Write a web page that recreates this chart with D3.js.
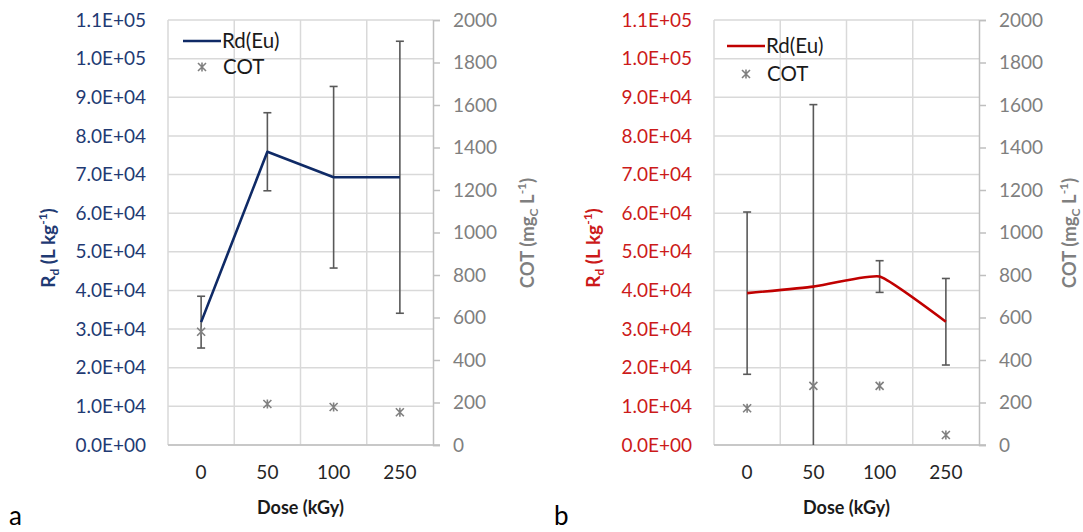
<!DOCTYPE html>
<html><head><meta charset="utf-8">
<script src="https://cdn.jsdelivr.net/npm/d3@7"></script>
<style>body{margin:0;background:#fff}svg{display:block}text{font-family:Lato,"Open Sans",sans-serif}</style>
</head><body>
<svg id="c" width="1083" height="532"></svg>
<script>
// ---- data ----
const doses = ["0", "50", "100", "250"];
const rdA = [31800, 75900, 69300, 69300];
const rdAErr = [6700, 10100, 23500, 35200];
const cotA = [533, 193, 179, 154];
const rdB = [39300, 41000, 43600, 31900];
const rdBErr = [21000, 47100, 4100, 11200];
const cotB = [173, 278, 278, 47];
const rdTicks = d3.range(0, 110001, 10000);
const cotTicks = d3.range(0, 2001, 200);
const seriesNames = ["Rd(Eu)", "COT"];
const panelLetters = ["a", "b"];

const svg = d3.select("#c");
const fmt = v => { const s = v.toExponential(1).toUpperCase(); return s.replace(/E([+-])(\d)$/, "E$10$2"); };
const FS = "19px";

function panel(o) {
  const g = svg.append("g");
  const x = d3.scaleBand().domain(doses).range([o.left, o.right]);
  const y = d3.scaleLinear().domain([0, 110000]).range([o.bottom, o.top]);
  const y2 = d3.scaleLinear().domain([0, 2000]).range([o.bottom, o.top]);
  g.append("g").selectAll("line").data(rdTicks).join("line")
    .attr("x1", o.left).attr("x2", o.right).attr("y1", d => y(d)).attr("y2", d => y(d))
    .attr("stroke", "#d9d9d9").attr("stroke-width", 1.5);
  g.append("g").selectAll("line").data(doses).join("line")
    .attr("x1", d => x(d)).attr("x2", d => x(d)).attr("y1", o.top).attr("y2", o.bottom)
    .attr("stroke", "#d9d9d9").attr("stroke-width", 1.5);
  const la = g.append("g").attr("transform", `translate(${o.left},0)`)
    .call(d3.axisLeft(y).tickValues(rdTicks).tickFormat(fmt).tickSize(0).tickPadding(22));
  la.select(".domain").remove();
  la.selectAll("text").attr("fill", o.color).style("font-size", FS);
  const ra = g.append("g").attr("transform", `translate(${o.right},0)`)
    .call(d3.axisRight(y2).tickValues(cotTicks).tickFormat(d3.format("d")).tickSize(7).tickPadding(13));
  ra.select(".domain").attr("stroke", "#bfbfbf").attr("stroke-width", 1.5);
  ra.selectAll("line").attr("stroke", "#bfbfbf").attr("stroke-width", 1.5);
  ra.selectAll("text").attr("fill", "#7f7f7f").style("font-size", FS);
  const ba = g.append("g").attr("transform", `translate(0,${o.bottom})`)
    .call(d3.axisBottom(x).tickSize(0).tickPadding(21));
  ba.select(".domain").attr("stroke", "#bfbfbf").attr("stroke-width", 1.5).attr("d", `M${o.left},0H${o.right + 7}`);
  ba.selectAll("text").attr("fill", "#262626").style("font-size", FS);
  const cx = d => x(d) + x.bandwidth() / 2;
  // error bars
  const pts = doses.map((d, i) => ({ d, v: o.rd[i], e: o.err[i] }));
  const lo = p => y(Math.max(0, p.v - p.e));
  const hi = p => y(p.v + p.e);
  const eb = g.append("g").attr("stroke", "#595959").attr("stroke-width", 1.6);
  eb.selectAll(".v").data(pts).join("line").attr("class", "v")
    .attr("x1", p => cx(p.d)).attr("x2", p => cx(p.d)).attr("y1", lo).attr("y2", hi);
  eb.selectAll(".l").data(pts.filter(p => p.v - p.e > 0)).join("line").attr("class", "l")
    .attr("x1", p => cx(p.d) - 4).attr("x2", p => cx(p.d) + 4).attr("y1", lo).attr("y2", lo);
  eb.selectAll(".h").data(pts).join("line").attr("class", "h")
    .attr("x1", p => cx(p.d) - 4).attr("x2", p => cx(p.d) + 4).attr("y1", hi).attr("y2", hi);
  const line = d3.line().x((d, i) => cx(doses[i])).y(d => y(d)).curve(o.curve);
  g.append("path").datum(o.rd).attr("d", line).attr("fill", "none")
    .attr("stroke", o.lineColor).attr("stroke-width", 2.6).attr("stroke-linejoin", "round");
  const star = "M-4,-4L4,4M-4,4L4,-4M0,-4.5L0,4.5";
  g.append("g").selectAll("path").data(o.cot).join("path")
    .attr("transform", (d, i) => `translate(${cx(doses[i])},${y2(d)})`)
    .attr("d", star).attr("stroke", "#808080").attr("stroke-width", 1.6).attr("fill", "none");
  // legend
  g.append("line").attr("x1", o.leg[0]).attr("x2", o.leg[0] + 38).attr("y1", o.leg[1]).attr("y2", o.leg[1])
    .attr("stroke", o.lineColor).attr("stroke-width", 2.6);
  g.append("text").attr("x", o.leg[0] + 39).attr("y", o.leg[1] + 7).text(seriesNames[0])
    .attr("fill", "#1a1a1a").style("font-size", "20.5px");
  g.append("path").attr("transform", `translate(${o.leg[0] + 19},${o.leg[2]})`).attr("d", star)
    .attr("stroke", "#808080").attr("stroke-width", 1.6).attr("fill", "none");
  g.append("text").attr("x", o.leg[0] + 40).attr("y", o.leg[2] + 7).text(seriesNames[1])
    .attr("fill", "#1a1a1a").style("font-size", "20.5px");
  // y title left
  const t1 = g.append("text").attr("transform", `translate(${o.ytx},248) rotate(-90)`).attr("text-anchor", "middle")
    .attr("fill", o.color).style("font-size", "19px").style("font-weight", "bold");
  t1.append("tspan").text("R");
  t1.append("tspan").text("d").style("font-size", "12px").attr("dy", 4);
  t1.append("tspan").text(" (L kg").attr("dy", -4);
  t1.append("tspan").text("-1").style("font-size", "12px").attr("dy", -8);
  t1.append("tspan").text(")").attr("dy", 8);
  // y title right
  const t2 = g.append("text").attr("transform", `translate(${o.y2tx},233) rotate(-90)`).attr("text-anchor", "middle")
    .attr("fill", "#7f7f7f").style("font-size", "18.5px").style("font-weight", "bold");
  t2.append("tspan").text("COT (mg");
  t2.append("tspan").text("C").style("font-size", "12px").attr("dy", 4);
  t2.append("tspan").text(" L").attr("dy", -4);
  t2.append("tspan").text("-1").style("font-size", "12px").attr("dy", -8);
  t2.append("tspan").text(")").attr("dy", 8);
  g.append("text").attr("x", (o.left + o.right) / 2).attr("y", o.bottom + 69).attr("text-anchor", "middle")
    .text("Dose (kGy)").attr("fill", "#1a1a1a").style("font-size", "18px").style("font-weight", "bold");
  g.append("text").attr("x", o.letterX).attr("y", 525).text(o.letter).attr("fill", "#000").style("font-size", "26px");
}

panel({ left: 168, right: 433, top: 20, bottom: 445, rd: rdA, err: rdAErr, cot: cotA,
  color: "#1f3a73", lineColor: "#0f2a66", curve: d3.curveLinear, leg: [183, 41, 67],
  ytx: 55, y2tx: 534, letterX: 9, letter: panelLetters[0] });
panel({ left: 714, right: 979, top: 20, bottom: 445, rd: rdB, err: rdBErr, cot: cotB,
  color: "#cc1a1a", lineColor: "#c00000", curve: d3.curveCardinal.tension(0.6), leg: [727, 46, 74],
  ytx: 600, y2tx: 1076, letterX: 554, letter: panelLetters[1] });
</script>
</body></html>
